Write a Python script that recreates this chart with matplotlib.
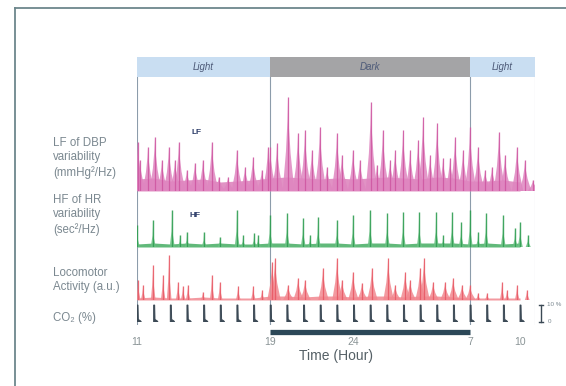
import matplotlib
matplotlib.use("Agg")
import matplotlib.pyplot as plt
from matplotlib.lines import Line2D

# ---------------- data (hours since midnight of day 1; 31 = 7 h next day) -------------
phase_names = ["Light", "Dark", "Light"]
phase_starts = [11, 19, 31]
phase_ends = [19, 31, 34.9]

tick_hours = [11, 19, 24, 31, 34]
tick_labels = ["11", "19", "24", "7", "10"]

# LF of DBP variability (a.u.) : spike peak time / height
lf_peak_hours = [11.05, 11.18, 11.66, 12.08, 12.50, 12.92, 13.28, 13.52, 14.0, 14.48, 14.96,
                 15.50, 15.92, 16.47, 17.0, 17.49, 17.97, 18.5, 18.87,
                 19.0, 19.41, 20.07, 20.67, 21.09, 21.51, 21.99, 22.41, 23.01, 23.31, 23.97,
                 24.39, 25.05, 25.41, 25.77, 26.20, 26.50, 26.98, 27.40, 27.88, 28.18, 28.60,
                 29.02, 29.38, 29.80, 30.10, 30.58, 31.0,
                 31.48, 31.90, 32.32, 32.74, 33.10, 33.82, 34.30, 34.78]
lf_peak_values = [49, 31, 44, 54, 31, 44, 31, 49, 21, 28, 31,
                  49, 14, 14, 41, 24, 34, 21, 44,
                  44, 48, 94, 58, 61, 41, 64, 24, 58, 36, 41,
                  31, 89, 26, 61, 31, 41, 61, 41, 51, 74, 36,
                  68, 33, 33, 54, 41, 64,
                  44, 21, 24, 59, 36, 44, 31, 11]
lf_base_hours = list(range(11, 35))
lf_base_values = [12, 13, 10, 11, 12, 9, 10, 11, 13, 14, 13, 12, 13, 12, 13, 14, 13, 12, 14, 13, 10, 10, 11, 9]

# HF of HR variability (a.u.)
hf_peak_hours = [11.0, 11.96, 13.10, 13.58, 14.0, 15.02, 15.98, 17.0, 17.37, 18.03, 18.27,
                 18.99, 20.01, 20.97, 21.39, 21.87, 23.01, 23.97, 24.99, 26.02, 26.98, 27.94,
                 28.96, 29.38, 29.92, 30.46, 31.0,
                 31.48, 31.96, 32.98, 33.70, 34.0, 34.48]
hf_peak_values = [22, 27, 37, 12, 15, 15, 10, 37, 12, 14, 12,
                  32, 34, 29, 12, 30, 27, 32, 37, 34, 35, 35,
                  35, 12, 35, 25, 37,
                  15, 34, 32, 19, 25, 12]
hf_base_hours = list(range(11, 35))
hf_base_values = [3, 4, 3, 4, 3, 4, 3, 3, 4, 4, 3, 4, 4, 3, 4, 4, 3, 4, 4, 4, 3, 4, 3, 4]

# Locomotor activity (a.u.)
loco_peak_hours = [11.06, 11.36, 11.96, 12.56, 12.92, 13.46, 13.76, 14.06, 14.96, 15.50, 15.98,
                   17.07, 17.97, 18.51,
                   19.11, 19.29, 20.07, 20.67, 21.09, 22.17, 23.01, 23.31, 23.97, 24.51, 25.11,
                   26.08, 26.50, 27.1, 27.40, 28.0, 28.24, 28.78, 29.50, 29.98, 30.52, 31.0,
                   31.48, 32.02, 32.92, 33.22, 33.82, 34.42]
loco_peak_values = [20, 15, 35, 25, 45, 18, 14, 15, 8, 25, 18,
                    14, 14, 10,
                    38, 42, 15, 22, 20, 32, 42, 20, 28, 17, 32,
                    42, 15, 28, 20, 32, 42, 18, 18, 22, 15, 15,
                    7, 7, 18, 10, 15, 10]
loco_base_hours = list(range(11, 35))
loco_base_values = [2, 3, 2, 2, 3, 2, 2, 2, 4, 4, 3, 4, 4, 3, 4, 4, 3, 4, 4, 3, 2, 2, 2, 2]

# CO2 pulses (%), one per hour
co2_pulse_hours = list(range(11, 35))
co2_pulse_values = [10] * len(co2_pulse_hours)

# ---------------- figure helpers ----------------
W, H = 566, 386
fig = plt.figure(figsize=(W / 100, H / 100), dpi=100)
plt.rcParams['font.family'] = ['Liberation Sans', 'DejaVu Sans']

XMIN, XMAX = 11, 34.9
X0, X1 = 137, 535


def px_axes(top, bottom, left=X0, right=X1):
    ax = fig.add_axes([left / W, 1 - bottom / H, (right - left) / W, (bottom - top) / H])
    ax.set_xlim(XMIN, XMAX)
    ax.axis('off')
    return ax


def draw_spikes(ax, hours, values, fill_color, line_color, width, skirt, alpha=0.85,
                dark_scale=1.0, lw=0.9):
    for t, v in zip(hours, values):
        k = dark_scale if phase_starts[1] <= t <= phase_ends[1] else 1.0
        w, s = width * k, skirt * k
        xs = [t - s, t - w * 1.4, t - w * 0.4, t, t + w * 0.5, t + w * 1.7, t + s * 1.2]
        ys = [0, v * 0.42, v * 0.75, v, v * 0.7, v * 0.4, 0]
        ax.fill(xs, ys, color=fill_color, alpha=alpha, lw=0)
        ax.plot([t, t], [0, v], color=line_color, lw=lw, alpha=0.9, solid_capstyle='butt')


label_color = "#7b8890"

# outer frame
fig.add_artist(Line2D([15 / W, 15 / W], [0, 1 - 8 / H], color="#6d878c", lw=1.3))
fig.add_artist(Line2D([15 / W, 1], [1 - 8 / H, 1 - 8 / H], color="#6d878c", lw=1.3))

# vertical phase lines
vax = px_axes(77, 325)
vax.set_ylim(0, 1)
for x in [phase_starts[0], phase_starts[1], phase_starts[2]]:
    vax.axvline(x, color="#8c9cab", lw=0.8)
vax.axvline(XMAX - 0.02, color="#b8c6d2", lw=0.8)

# header
hax = px_axes(57, 77)
hax.set_ylim(0, 1)
for name, s, e in zip(phase_names, phase_starts, phase_ends):
    fc = "#a4a4a6" if name == "Dark" else "#c9def2"
    hax.axvspan(s, e, color=fc, lw=0)
    hax.text((s + e) / 2, 0.5, name, ha='center', va='center', style='italic',
             fontsize=7, color="#4d5a78")

# LF
lax = px_axes(78, 191)
lax.set_ylim(0, 113)
lax.fill_between(lf_base_hours, lf_base_values, color="#dc7fba", alpha=0.85, lw=0)
draw_spikes(lax, lf_peak_hours, lf_peak_values, "#df86c0", "#cf58a2", 0.09, 0.32)
lax.text(14.6, 58, "LF", fontsize=6, fontweight='bold', color="#2f3f6a", ha='center', va='center')

# HF
fax = px_axes(200, 247)
fax.set_ylim(0, 47)
fax.fill_between(hf_base_hours, hf_base_values, color="#45ad63", alpha=0.85, lw=0)
draw_spikes(fax, hf_peak_hours, hf_peak_values, "#6cc285", "#2f9e52", 0.02, 0.14, lw=1.0)

fax.text(14.48, 32, "HF", fontsize=6, fontweight='bold', color="#2f3f6a", ha='center', va='center')

# Locomotor
oax = px_axes(255, 300)
oax.set_ylim(0, 45)
oax.fill_between(loco_base_hours, loco_base_values, color="#f08089", alpha=0.8, lw=0)
draw_spikes(oax, loco_peak_hours, loco_peak_values, "#f28890", "#e85a66", 0.035, 0.13,
            dark_scale=2.2)

# CO2
cax = px_axes(303, 322)
cax.set_ylim(0, 11.2)
cax.axhline(0, color="#8a9aa5", lw=0.6)
for t, v in zip(co2_pulse_hours, co2_pulse_values):
    cax.fill([t, t, t + 0.06, t + 0.08, t + 0.22, t + 0.26],
             [0, v, v, v * 0.15, v * 0.06, 0], color="#3b4955", lw=0.7)
# scale bar
sb = 35.25
cax.plot([sb, sb], [0, 10], color="#3b4955", lw=1.0, clip_on=False)
cax.plot([sb - 0.12, sb + 0.12], [10, 10], color="#3b4955", lw=1.0, clip_on=False)
cax.plot([sb - 0.12, sb + 0.12], [0, 0], color="#3b4955", lw=1.0, clip_on=False)
cax.text(sb + 0.4, 10.5, "10 %", fontsize=4.5, color=label_color, va='center', clip_on=False)
cax.text(sb + 0.4, 0.3, "0", fontsize=4.5, color=label_color, va='center', clip_on=False)

# timeline bar + ticks
tax = fig.add_axes([X0 / W, 1 - 336 / H, (X1 - X0) / W, 8 / H])
tax.set_xlim(XMIN, XMAX)
tax.set_ylim(0, 1)
for s in tax.spines.values():
    s.set_visible(False)
tax.set_yticks([])
tax.patch.set_alpha(0)
tax.hlines(0.5, phase_starts[1], phase_ends[1], color="#2c4858", lw=3.8)
tax.set_xticks(tick_hours)
tax.set_xticklabels(tick_labels, fontsize=7.5, color="#8a9496")
tax.tick_params(axis='x', length=0, pad=1)
tax.set_xlabel("Time (Hour)", fontsize=10, color="#556066", labelpad=1)

# row labels
fig.text(53 / W, 1 - 158 / H, "LF of DBP\nvariability\n(mmHg²/Hz)", fontsize=8.3,
         color=label_color, ha='left', va='center', linespacing=1.25)
fig.text(53 / W, 1 - 215 / H, "HF of HR\nvariability\n(sec²/Hz)", fontsize=8.3,
         color=label_color, ha='left', va='center', linespacing=1.25)
fig.text(53 / W, 1 - 280 / H, "Locomotor\nActivity (a.u.)", fontsize=8.3,
         color=label_color, ha='left', va='center', linespacing=1.25)
fig.text(53 / W, 1 - 318 / H, "CO₂ (%)", fontsize=8.3,
         color=label_color, ha='left', va='center')

fig.savefig("out.png", dpi=100)
